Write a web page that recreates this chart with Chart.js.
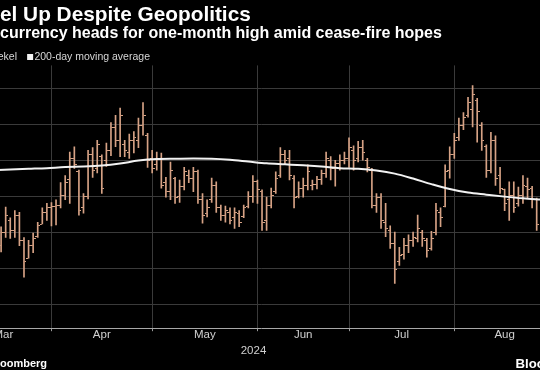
<!DOCTYPE html>
<html>
<head>
<meta charset="utf-8">
<script src="https://cdn.jsdelivr.net/npm/chart.js@4"></script>
<style>
  html, body { margin: 0; padding: 0; background: #000; width: 540px; height: 370px; overflow: hidden; }
  .txt { position: absolute; white-space: nowrap; color: #fff; font-family: 'Liberation Sans', Arial, sans-serif; font-weight: bold; line-height: 1; }
  .cut { position: absolute; right: 100%; top: 0; }
  #wrap { position: absolute; left: -40px; top: 0; width: 600px; height: 370px; }
</style>
</head>
<body>
<div id="wrap"><canvas id="myChart"></canvas></div>
<div class="txt" style="left:0; top:3.7px; font-size:20.8px;"><span class="cut">Shek</span>el Up Despite Geopolitics</div>
<div class="txt" style="left:0; top:25.1px; font-size:16px;">currency heads for one-month high amid cease-fire hopes</div>
<div class="txt" style="left:0; top:358.2px; font-size:11px;"><span class="cut">Source: Bl</span>oomberg</div>
<div class="txt" style="left:515.5px; top:357.2px; font-size:13.2px;">Bloomberg</div>
<script>
// trading-day index (0 = 1 Mar 2024) where each month starts
let monthStarts = [0, 21, 43, 66, 86, 109, 131];
let monthLabels = ['Mar', 'Apr', 'May', 'Jun', 'Jul', 'Aug'];
let yearLabels = ['2024'];
let gridValues = [3.58, 3.62, 3.66, 3.70, 3.74, 3.78, 3.82];

// USD/ILS daily bars (axis is inverted, so a stronger shekel plots higher)
let firstDay = 10;
let opens = [
  3.755, 3.740, 3.727, 3.738, 3.721, 3.749, 3.769, 3.755, 3.745, 3.731,
  3.718, 3.713, 3.712, 3.710, 3.699, 3.682, 3.658, 3.673, 3.713, 3.700,
  3.654, 3.669, 3.656, 3.660, 3.649, 3.624, 3.638, 3.643, 3.651, 3.638,
  3.638, 3.621, 3.632, 3.658, 3.665, 3.658, 3.685, 3.695, 3.680, 3.700,
  3.689, 3.677, 3.680, 3.673, 3.704, 3.719, 3.704, 3.688, 3.713, 3.721,
  3.718, 3.724, 3.719, 3.723, 3.711, 3.700, 3.684, 3.695, 3.727, 3.710,
  3.695, 3.677, 3.654, 3.658, 3.680, 3.700, 3.691, 3.688, 3.688, 3.687,
  3.682, 3.675, 3.660, 3.669, 3.664, 3.660, 3.658, 3.649, 3.658, 3.646,
  3.660, 3.671, 3.710, 3.702, 3.729, 3.738, 3.753, 3.773, 3.765, 3.755,
  3.749, 3.747, 3.740, 3.749, 3.758, 3.740, 3.718, 3.711, 3.671, 3.654,
  3.635, 3.621, 3.610, 3.604, 3.593, 3.621, 3.645, 3.671, 3.638, 3.677,
  3.693, 3.704, 3.699, 3.708, 3.699, 3.689, 3.691, 3.704
];
let lows = [
  3.734, 3.712, 3.724, 3.716, 3.718, 3.746, 3.749, 3.741, 3.729, 3.713,
  3.708, 3.707, 3.704, 3.685, 3.677, 3.651, 3.645, 3.671, 3.697, 3.649,
  3.646, 3.638, 3.654, 3.641, 3.618, 3.610, 3.602, 3.638, 3.631, 3.628,
  3.613, 3.596, 3.630, 3.649, 3.651, 3.652, 3.679, 3.662, 3.679, 3.682,
  3.668, 3.671, 3.668, 3.671, 3.697, 3.704, 3.680, 3.684, 3.710, 3.711,
  3.713, 3.713, 3.716, 3.710, 3.695, 3.677, 3.682, 3.693, 3.701, 3.691,
  3.673, 3.646, 3.649, 3.649, 3.677, 3.684, 3.680, 3.665, 3.682, 3.678,
  3.671, 3.651, 3.656, 3.660, 3.654, 3.651, 3.635, 3.644, 3.639, 3.638,
  3.658, 3.669, 3.697, 3.697, 3.708, 3.733, 3.740, 3.757, 3.747, 3.743,
  3.740, 3.721, 3.738, 3.747, 3.739, 3.708, 3.713, 3.665, 3.645, 3.630,
  3.613, 3.607, 3.590, 3.577, 3.591, 3.618, 3.643, 3.629, 3.633, 3.668,
  3.692, 3.684, 3.684, 3.690, 3.677, 3.680, 3.689, 3.702
];
let highs = [
  3.762, 3.746, 3.747, 3.746, 3.755, 3.790, 3.769, 3.763, 3.746, 3.731,
  3.727, 3.733, 3.732, 3.713, 3.704, 3.708, 3.669, 3.721, 3.719, 3.703,
  3.679, 3.674, 3.697, 3.667, 3.655, 3.645, 3.656, 3.656, 3.658, 3.652,
  3.646, 3.632, 3.668, 3.674, 3.671, 3.691, 3.701, 3.704, 3.708, 3.707,
  3.693, 3.685, 3.695, 3.708, 3.730, 3.723, 3.707, 3.718, 3.727, 3.729,
  3.731, 3.736, 3.734, 3.724, 3.713, 3.707, 3.708, 3.738, 3.738, 3.713,
  3.697, 3.679, 3.665, 3.682, 3.713, 3.702, 3.701, 3.693, 3.693, 3.692,
  3.687, 3.679, 3.682, 3.689, 3.671, 3.664, 3.668, 3.671, 3.662, 3.660,
  3.673, 3.713, 3.718, 3.736, 3.745, 3.758, 3.797, 3.777, 3.770, 3.763,
  3.756, 3.751, 3.756, 3.768, 3.760, 3.743, 3.734, 3.712, 3.680, 3.658,
  3.638, 3.626, 3.612, 3.623, 3.640, 3.649, 3.679, 3.674, 3.688, 3.697,
  3.716, 3.727, 3.718, 3.711, 3.708, 3.702, 3.713, 3.738
];
let closes = [
  3.740, 3.721, 3.738, 3.721, 3.749, 3.773, 3.755, 3.747, 3.733, 3.718,
  3.713, 3.712, 3.710, 3.699, 3.685, 3.658, 3.665, 3.716, 3.700, 3.654,
  3.671, 3.643, 3.691, 3.649, 3.624, 3.638, 3.610, 3.649, 3.638, 3.635,
  3.621, 3.610, 3.660, 3.669, 3.658, 3.688, 3.695, 3.671, 3.702, 3.689,
  3.673, 3.680, 3.673, 3.704, 3.721, 3.713, 3.688, 3.713, 3.721, 3.716,
  3.727, 3.718, 3.729, 3.713, 3.700, 3.684, 3.693, 3.729, 3.710, 3.699,
  3.680, 3.654, 3.660, 3.677, 3.702, 3.691, 3.688, 3.673, 3.687, 3.682,
  3.675, 3.658, 3.669, 3.664, 3.660, 3.658, 3.646, 3.660, 3.646, 3.651,
  3.668, 3.710, 3.702, 3.727, 3.736, 3.753, 3.782, 3.766, 3.755, 3.749,
  3.746, 3.736, 3.747, 3.760, 3.747, 3.716, 3.724, 3.673, 3.654, 3.638,
  3.621, 3.613, 3.596, 3.587, 3.606, 3.638, 3.671, 3.638, 3.680, 3.691,
  3.708, 3.699, 3.713, 3.699, 3.688, 3.693, 3.704, 3.732
];

// 200-day moving average, read every few days
let maDays = [8, 12, 16, 20, 24, 28, 32, 36, 40, 44, 48, 52, 56, 60, 64, 68,
  72, 76, 80, 84, 88, 92, 96, 100, 104, 108, 112, 116, 120, 124, 128];
let maValues = [3.6713, 3.6704, 3.6696, 3.6688, 3.6676, 3.6671, 3.6660, 3.6637,
  3.6604, 3.6587, 3.6584, 3.6582, 3.6584, 3.6595, 3.6615, 3.6635, 3.6646, 3.6657,
  3.6671, 3.6688, 3.6696, 3.6715, 3.6749, 3.6804, 3.6866, 3.6921, 3.6960, 3.6983,
  3.7005, 3.7024, 3.7038];

let legendNames = ['Shekel', '200-day moving average'];

const barColor = '#d6a285';
const maColor = '#f2f2f2';
const gridColor = '#3a3a3a';
const font = 'Liberation Sans';

// small images used as open/close ticks and legend squares
function makeTick(left) {
    let c = document.createElement('canvas');
    c.width = 5; c.height = 1;
    let g = c.getContext('2d');
    g.fillStyle = barColor;
    g.fillRect(left ? 0 : 3, 0, 2, 1);
    return c;
}
function makeSquare(color) {
    let c = document.createElement('canvas');
    c.width = 18; c.height = 6;
    let g = c.getContext('2d');
    g.fillStyle = color;
    g.fillRect(11, 0, 6, 6);
    return c;
}
let openTick = makeTick(true);
let closeTick = makeTick(false);
let legendBoxes = [makeSquare(barColor), makeSquare(maColor)];

let days = opens.map((v, i) => firstDay + i);
let monthMids = monthLabels.map((m, i) => (monthStarts[i] + monthStarts[i + 1]) / 2);
let xTicks = monthStarts.slice(1).concat(monthMids).sort((a, b) => a - b);
let isStart = v => monthStarts.includes(v);

let ctx = document.getElementById('myChart').getContext('2d');
let myChart = new Chart(ctx, {
    type: 'bar',
    data: {
        datasets: [{
            type: 'line',
            label: legendNames[1],
            data: maDays.map((d, i) => ({ x: d, y: maValues[i] })),
            borderColor: maColor,
            borderWidth: 2,
            pointRadius: 0,
            cubicInterpolationMode: 'monotone',
            order: 0
        }, {
            type: 'bar',
            label: legendNames[0],
            data: days.map((d, i) => ({ x: d, y: [lows[i], highs[i]] })),
            backgroundColor: barColor,
            barThickness: 1,
            order: 2
        }, {
            type: 'scatter',
            label: 'open',
            data: days.map((d, i) => ({ x: d, y: opens[i] })),
            pointStyle: openTick,
            pointRadius: 2,
            order: 1
        }, {
            type: 'scatter',
            label: 'close',
            data: days.map((d, i) => ({ x: d, y: closes[i] })),
            pointStyle: closeTick,
            pointRadius: 2,
            order: 1
        }]
    },
    options: {
        responsive: true,
        maintainAspectRatio: false,
        animation: false,
        events: [],
        layout: { padding: { left: 7.5, right: 3.3, top: 47.55, bottom: 12.8 } },
        plugins: {
            tooltip: { enabled: false },
            legend: {
                position: 'top',
                align: 'start',
                maxHeight: 17.85,
                labels: {
                    usePointStyle: true,
                    pointStyleWidth: 8.15,
                    boxHeight: 6,
                    padding: 4,
                    color: '#d6d6d6',
                    font: { family: font, size: 10.5 },
                    generateLabels: () => legendNames.map((t, i) => ({
                        text: t,
                        pointStyle: legendBoxes[i],
                        fillStyle: i ? maColor : barColor,
                        strokeStyle: i ? maColor : barColor,
                        fontColor: '#d6d6d6',
                        lineWidth: 0,
                        hidden: false,
                        datasetIndex: i ? 0 : 1
                    }))
                }
            }
        },
        scales: {
            x: {
                type: 'linear',
                min: 2.66,
                max: 131,
                offset: false,
                afterBuildTicks: s => { s.ticks = xTicks.map(v => ({ value: v })); },
                afterFit: s => { s.height = 14.5; },
                grid: {
                    offset: false,
                    color: c => (c.tick && isStart(c.tick.value)) ? gridColor : 'rgba(0,0,0,0)',
                    tickColor: c => (c.tick && isStart(c.tick.value)) ? '#9a9a9a' : 'rgba(0,0,0,0)',
                    tickLength: 3
                },
                border: { color: '#a8a8a8', width: 1 },
                ticks: {
                    autoSkip: false,
                    maxRotation: 0,
                    padding: -2.9,
                    color: '#d0d0d0',
                    font: { family: font, size: 11.5 },
                    callback: v => {
                        let k = monthMids.indexOf(v);
                        return k >= 0 ? monthLabels[k] : '';
                    }
                }
            },
            x2: {
                type: 'linear',
                axis: 'x',
                position: 'bottom',
                min: 2.66,
                max: 131,
                afterBuildTicks: s => { s.ticks = [{ value: 63.45 }]; },
                afterFit: s => { s.height = 14.5; },
                grid: { display: false, drawTicks: false },
                border: { display: false },
                ticks: {
                    padding: 1,
                    color: '#d0d0d0',
                    font: { family: font, size: 11.5 },
                    callback: () => yearLabels[0]
                }
            },
            y: {
                type: 'linear',
                position: 'right',
                reverse: true,
                min: 3.5545,
                max: 3.8469,
                afterBuildTicks: s => { s.ticks = gridValues.map(v => ({ value: v })); },
                afterFit: s => { s.width = 0; },
                grid: { color: gridColor, drawTicks: false },
                border: { display: false },
                ticks: { display: false }
            }
        }
    }
});
</script>
</body>
</html>
